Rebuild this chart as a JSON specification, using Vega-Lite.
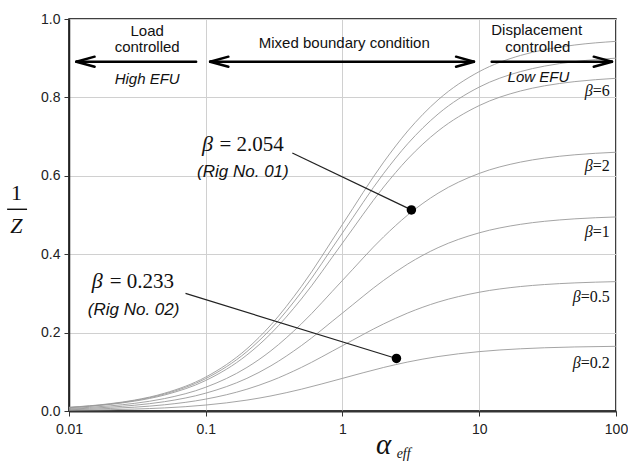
{
  "$schema": "https://vega.github.io/schema/vega-lite/v6.json",
  "width": 547,
  "height": 392,
  "autosize": {"type": "none"},
  "padding": {"left": 69, "top": 19, "right": 12, "bottom": 52},
  "background": "white",
  "config": {
    "view": {"stroke": "#000", "strokeWidth": 1.5},
    "axis": {
      "gridColor": "#d0d0d0",
      "gridWidth": 1,
      "tickColor": "#333",
      "tickSize": 5,
      "domainColor": "#222",
      "domainWidth": 1.5,
      "labelFont": "Liberation Sans",
      "labelFontSize": 14,
      "labelColor": "#222",
      "labelFlush": false
    }
  },
  "datasets": {
    "curves": [
      {"a": 0.01, "v": 0.0017, "b": 0.2}, {"a": 0.02, "v": 0.0033, "b": 0.2}, {"a": 0.03, "v": 0.0049, "b": 0.2}, {"a": 0.05, "v": 0.0079, "b": 0.2}, {"a": 0.1, "v": 0.0152, "b": 0.2}, {"a": 0.2, "v": 0.0278, "b": 0.2}, {"a": 0.3, "v": 0.0385, "b": 0.2}, {"a": 0.5, "v": 0.0556, "b": 0.2}, {"a": 1, "v": 0.0833, "b": 0.2}, {"a": 2, "v": 0.1111, "b": 0.2}, {"a": 3, "v": 0.125, "b": 0.2}, {"a": 5, "v": 0.1389, "b": 0.2}, {"a": 10, "v": 0.1515, "b": 0.2}, {"a": 20, "v": 0.1587, "b": 0.2}, {"a": 30, "v": 0.1613, "b": 0.2}, {"a": 50, "v": 0.1634, "b": 0.2}, {"a": 100, "v": 0.165, "b": 0.2},
      {"a": 0.01, "v": 0.0033, "b": 0.5}, {"a": 0.02, "v": 0.0065, "b": 0.5}, {"a": 0.03, "v": 0.0097, "b": 0.5}, {"a": 0.05, "v": 0.0159, "b": 0.5}, {"a": 0.1, "v": 0.0303, "b": 0.5}, {"a": 0.2, "v": 0.0556, "b": 0.5}, {"a": 0.3, "v": 0.0769, "b": 0.5}, {"a": 0.5, "v": 0.1111, "b": 0.5}, {"a": 1, "v": 0.1667, "b": 0.5}, {"a": 2, "v": 0.2222, "b": 0.5}, {"a": 3, "v": 0.25, "b": 0.5}, {"a": 5, "v": 0.2778, "b": 0.5}, {"a": 10, "v": 0.303, "b": 0.5}, {"a": 20, "v": 0.3175, "b": 0.5}, {"a": 30, "v": 0.3226, "b": 0.5}, {"a": 50, "v": 0.3268, "b": 0.5}, {"a": 100, "v": 0.33, "b": 0.5},
      {"a": 0.01, "v": 0.005, "b": 1}, {"a": 0.02, "v": 0.0098, "b": 1}, {"a": 0.03, "v": 0.0146, "b": 1}, {"a": 0.05, "v": 0.0238, "b": 1}, {"a": 0.1, "v": 0.0455, "b": 1}, {"a": 0.2, "v": 0.0833, "b": 1}, {"a": 0.3, "v": 0.1154, "b": 1}, {"a": 0.5, "v": 0.1667, "b": 1}, {"a": 1, "v": 0.25, "b": 1}, {"a": 2, "v": 0.3333, "b": 1}, {"a": 3, "v": 0.375, "b": 1}, {"a": 5, "v": 0.4167, "b": 1}, {"a": 10, "v": 0.4545, "b": 1}, {"a": 20, "v": 0.4762, "b": 1}, {"a": 30, "v": 0.4839, "b": 1}, {"a": 50, "v": 0.4902, "b": 1}, {"a": 100, "v": 0.495, "b": 1},
      {"a": 0.01, "v": 0.0066, "b": 2}, {"a": 0.02, "v": 0.0131, "b": 2}, {"a": 0.03, "v": 0.0194, "b": 2}, {"a": 0.05, "v": 0.0317, "b": 2}, {"a": 0.1, "v": 0.0606, "b": 2}, {"a": 0.2, "v": 0.1111, "b": 2}, {"a": 0.3, "v": 0.1538, "b": 2}, {"a": 0.5, "v": 0.2222, "b": 2}, {"a": 1, "v": 0.3333, "b": 2}, {"a": 2, "v": 0.4444, "b": 2}, {"a": 3, "v": 0.5, "b": 2}, {"a": 5, "v": 0.5556, "b": 2}, {"a": 10, "v": 0.6061, "b": 2}, {"a": 20, "v": 0.6349, "b": 2}, {"a": 30, "v": 0.6452, "b": 2}, {"a": 50, "v": 0.6536, "b": 2}, {"a": 100, "v": 0.6601, "b": 2},
      {"a": 0.01, "v": 0.0085, "b": 6}, {"a": 0.02, "v": 0.0168, "b": 6}, {"a": 0.03, "v": 0.025, "b": 6}, {"a": 0.05, "v": 0.0408, "b": 6}, {"a": 0.1, "v": 0.0779, "b": 6}, {"a": 0.2, "v": 0.1429, "b": 6}, {"a": 0.3, "v": 0.1978, "b": 6}, {"a": 0.5, "v": 0.2857, "b": 6}, {"a": 1, "v": 0.4286, "b": 6}, {"a": 2, "v": 0.5714, "b": 6}, {"a": 3, "v": 0.6429, "b": 6}, {"a": 5, "v": 0.7143, "b": 6}, {"a": 10, "v": 0.7792, "b": 6}, {"a": 20, "v": 0.8163, "b": 6}, {"a": 30, "v": 0.8295, "b": 6}, {"a": 50, "v": 0.8403, "b": 6}, {"a": 100, "v": 0.8487, "b": 6},
      {"a": 0.01, "v": 0.009, "b": 10}, {"a": 0.02, "v": 0.0178, "b": 10}, {"a": 0.03, "v": 0.0265, "b": 10}, {"a": 0.05, "v": 0.0433, "b": 10}, {"a": 0.1, "v": 0.0826, "b": 10}, {"a": 0.2, "v": 0.1515, "b": 10}, {"a": 0.3, "v": 0.2098, "b": 10}, {"a": 0.5, "v": 0.303, "b": 10}, {"a": 1, "v": 0.4545, "b": 10}, {"a": 2, "v": 0.6061, "b": 10}, {"a": 3, "v": 0.6818, "b": 10}, {"a": 5, "v": 0.7576, "b": 10}, {"a": 10, "v": 0.8264, "b": 10}, {"a": 20, "v": 0.8658, "b": 10}, {"a": 30, "v": 0.8798, "b": 10}, {"a": 50, "v": 0.8913, "b": 10}, {"a": 100, "v": 0.9001, "b": 10},
      {"a": 0.01, "v": 0.0094, "b": 20}, {"a": 0.02, "v": 0.0187, "b": 20}, {"a": 0.03, "v": 0.0277, "b": 20}, {"a": 0.05, "v": 0.0454, "b": 20}, {"a": 0.1, "v": 0.0866, "b": 20}, {"a": 0.2, "v": 0.1587, "b": 20}, {"a": 0.3, "v": 0.2198, "b": 20}, {"a": 0.5, "v": 0.3175, "b": 20}, {"a": 1, "v": 0.4762, "b": 20}, {"a": 2, "v": 0.6349, "b": 20}, {"a": 3, "v": 0.7143, "b": 20}, {"a": 5, "v": 0.7937, "b": 20}, {"a": 10, "v": 0.8658, "b": 20}, {"a": 20, "v": 0.907, "b": 20}, {"a": 30, "v": 0.9217, "b": 20}, {"a": 50, "v": 0.9337, "b": 20}, {"a": 100, "v": 0.943, "b": 20}
    ],
    "arrows": [
      {"x": 0.01132, "y": 0.891, "x2": 0.0851, "y2": 0.891},
      {"x": 0.01132, "y": 0.891, "x2": 0.0154, "y2": 0.9038},
      {"x": 0.01132, "y": 0.891, "x2": 0.0154, "y2": 0.8782},
      {"x": 0.1076, "y": 0.891, "x2": 9.15, "y2": 0.891},
      {"x": 0.1076, "y": 0.891, "x2": 0.1465, "y2": 0.9038},
      {"x": 0.1076, "y": 0.891, "x2": 0.1465, "y2": 0.8782},
      {"x": 9.15, "y": 0.891, "x2": 6.76, "y2": 0.9038},
      {"x": 9.15, "y": 0.891, "x2": 6.76, "y2": 0.8782},
      {"x": 12.32, "y": 0.891, "x2": 93.5, "y2": 0.891},
      {"x": 93.5, "y": 0.891, "x2": 68.7, "y2": 0.9038},
      {"x": 93.5, "y": 0.891, "x2": 68.7, "y2": 0.8782}
    ],
    "leaders": [
      {"x": 0.4296, "y": 0.658, "x2": 3.19, "y2": 0.513},
      {"x": 0.0711, "y": 0.3, "x2": 2.48, "y2": 0.134}
    ],
    "dots": [
      {"x": 3.19, "y": 0.513},
      {"x": 2.48, "y": 0.134}
    ],
    "topText": [
      {"x": 0.0373, "y": 0.969, "t": "Load"},
      {"x": 0.0373, "y": 0.9276, "t": "controlled"},
      {"x": 1.03, "y": 0.9395, "t": "Mixed boundary condition"},
      {"x": 26.3, "y": 0.972, "t": "Displacement"},
      {"x": 26.8, "y": 0.9286, "t": "controlled"}
    ],
    "efuText": [
      {"x": 0.0373, "y": 0.847, "t": "High EFU"},
      {"x": 27.1, "y": 0.853, "t": "Low EFU"}
    ],
    "rigText": [
      {"x": 0.1869, "y": 0.597, "t": "(Rig No. 01)"},
      {"x": 0.02966, "y": 0.245, "t": "(Rig No. 02)"}
    ],
    "bigBeta": [
      {"x": 0.1029, "y": 0.664},
      {"x": 0.01606, "y": 0.313}
    ],
    "bigVal": [
      {"x": 0.1259, "y": 0.664, "t": "= 2.054"},
      {"x": 0.01982, "y": 0.313, "t": "= 0.233"}
    ],
    "betaLab": [
      {"x": 90, "bx": 67.6, "y": 0.804, "t": "=6"},
      {"x": 90, "bx": 67.6, "y": 0.613, "t": "=2"},
      {"x": 90, "bx": 67.6, "y": 0.445, "t": "=1"},
      {"x": 90, "bx": 55.2, "y": 0.279, "t": "=0.5"},
      {"x": 90, "bx": 55.2, "y": 0.109, "t": "=0.2"}
    ],
    "yTitleNum": [{"x": 0.00413, "y": 0.557, "t": "1"}],
    "yTitleDen": [{"x": 0.00413, "y": 0.473, "t": "Z"}],
    "yTitleBar": [{"x": 0.003527, "x2": 0.004935, "y": 0.5146}],
    "xTitle": [{"x": 2.0, "y": -0.087, "t": "α"}],
    "xTitleSub": [{"x": 2.8, "y": -0.11, "t": "eff"}]
  },
  "layer": [
    {
      "data": {"name": "curves"},
      "mark": {"type": "line", "color": "#9a9a9a", "strokeWidth": 0.9, "interpolate": "monotone"},
      "encoding": {
        "x": {"field": "a", "type": "quantitative", "title": null,
              "scale": {"type": "log", "domain": [0.01, 100], "nice": false},
              "axis": {"values": [0.01, 0.1, 1, 10, 100], "format": "~g", "grid": true, "labelPadding": 6, "domainWidth": 2, "domainColor": "#333"}},
        "y": {"field": "v", "type": "quantitative", "title": null,
              "scale": {"domain": [0, 1], "nice": false, "zero": false},
              "axis": {"values": [0, 0.2, 0.4, 0.6, 0.8, 1], "format": ".1f", "grid": true, "labelPadding": 4}},
        "detail": {"field": "b", "type": "nominal"}
      }
    },
    {
      "data": {"name": "arrows"},
      "mark": {"type": "rule", "color": "#000", "strokeWidth": 2.4, "strokeCap": "round"},
      "encoding": {
        "x": {"field": "x", "type": "quantitative", "title": null, "scale": {"type": "log", "domain": [0.01, 100], "nice": false}},
        "y": {"field": "y", "type": "quantitative", "title": null, "scale": {"domain": [0, 1], "nice": false, "zero": false}},
        "x2": {"field": "x2"},
        "y2": {"field": "y2"}
      }
    },
    {
      "data": {"name": "leaders"},
      "mark": {"type": "rule", "color": "#222", "strokeWidth": 1.2},
      "encoding": {
        "x": {"field": "x", "type": "quantitative", "title": null, "scale": {"type": "log", "domain": [0.01, 100], "nice": false}},
        "y": {"field": "y", "type": "quantitative", "title": null, "scale": {"domain": [0, 1], "nice": false, "zero": false}},
        "x2": {"field": "x2"},
        "y2": {"field": "y2"}
      }
    },
    {
      "data": {"name": "dots"},
      "mark": {"type": "point", "filled": true, "color": "#000", "size": 90, "opacity": 1},
      "encoding": {
        "x": {"field": "x", "type": "quantitative", "title": null, "scale": {"type": "log", "domain": [0.01, 100], "nice": false}},
        "y": {"field": "y", "type": "quantitative", "title": null, "scale": {"domain": [0, 1], "nice": false, "zero": false}}
      }
    },
    {
      "data": {"name": "topText"},
      "mark": {"type": "text", "font": "Liberation Sans", "fontSize": 15, "color": "#111", "align": "center", "baseline": "middle"},
      "encoding": {
        "x": {"field": "x", "type": "quantitative", "title": null, "scale": {"type": "log", "domain": [0.01, 100], "nice": false}},
        "y": {"field": "y", "type": "quantitative", "title": null, "scale": {"domain": [0, 1], "nice": false, "zero": false}},
        "text": {"field": "t"}
      }
    },
    {
      "data": {"name": "efuText"},
      "mark": {"type": "text", "font": "Liberation Sans", "fontSize": 15, "fontStyle": "italic", "color": "#111", "align": "center", "baseline": "middle"},
      "encoding": {
        "x": {"field": "x", "type": "quantitative", "title": null, "scale": {"type": "log", "domain": [0.01, 100], "nice": false}},
        "y": {"field": "y", "type": "quantitative", "title": null, "scale": {"domain": [0, 1], "nice": false, "zero": false}},
        "text": {"field": "t"}
      }
    },
    {
      "data": {"name": "rigText"},
      "mark": {"type": "text", "font": "Liberation Sans", "fontSize": 17, "fontStyle": "italic", "color": "#111", "align": "center", "baseline": "alphabetic"},
      "encoding": {
        "x": {"field": "x", "type": "quantitative", "title": null, "scale": {"type": "log", "domain": [0.01, 100], "nice": false}},
        "y": {"field": "y", "type": "quantitative", "title": null, "scale": {"domain": [0, 1], "nice": false, "zero": false}},
        "text": {"field": "t"}
      }
    },
    {
      "data": {"name": "bigBeta"},
      "mark": {"type": "text", "font": "Liberation Serif", "fontSize": 22, "fontStyle": "italic", "color": "#111", "align": "center", "baseline": "alphabetic", "text": "β"},
      "encoding": {
        "x": {"field": "x", "type": "quantitative", "title": null, "scale": {"type": "log", "domain": [0.01, 100], "nice": false}},
        "y": {"field": "y", "type": "quantitative", "title": null, "scale": {"domain": [0, 1], "nice": false, "zero": false}}
      }
    },
    {
      "data": {"name": "bigVal"},
      "mark": {"type": "text", "font": "Liberation Serif", "fontSize": 21, "color": "#111", "align": "left", "baseline": "alphabetic"},
      "encoding": {
        "x": {"field": "x", "type": "quantitative", "title": null, "scale": {"type": "log", "domain": [0.01, 100], "nice": false}},
        "y": {"field": "y", "type": "quantitative", "title": null, "scale": {"domain": [0, 1], "nice": false, "zero": false}},
        "text": {"field": "t"}
      }
    },
    {
      "data": {"name": "betaLab"},
      "mark": {"type": "text", "font": "Liberation Serif", "fontSize": 16, "fontStyle": "italic", "color": "#111", "align": "right", "baseline": "alphabetic", "text": "β"},
      "encoding": {
        "x": {"field": "bx", "type": "quantitative", "title": null, "scale": {"type": "log", "domain": [0.01, 100], "nice": false}},
        "y": {"field": "y", "type": "quantitative", "title": null, "scale": {"domain": [0, 1], "nice": false, "zero": false}}
      }
    },
    {
      "data": {"name": "betaLab"},
      "mark": {"type": "text", "font": "Liberation Serif", "fontSize": 16, "color": "#111", "align": "right", "baseline": "alphabetic"},
      "encoding": {
        "x": {"field": "x", "type": "quantitative", "title": null, "scale": {"type": "log", "domain": [0.01, 100], "nice": false}},
        "y": {"field": "y", "type": "quantitative", "title": null, "scale": {"domain": [0, 1], "nice": false, "zero": false}},
        "text": {"field": "t"}
      }
    },
    {
      "data": {"name": "yTitleNum"},
      "mark": {"type": "text", "font": "Liberation Serif", "fontSize": 22, "color": "#111", "align": "center", "baseline": "middle"},
      "encoding": {
        "x": {"field": "x", "type": "quantitative", "title": null, "scale": {"type": "log", "domain": [0.01, 100], "nice": false}},
        "y": {"field": "y", "type": "quantitative", "title": null, "scale": {"domain": [0, 1], "nice": false, "zero": false}},
        "text": {"field": "t"}
      }
    },
    {
      "data": {"name": "yTitleDen"},
      "mark": {"type": "text", "font": "Liberation Serif", "fontSize": 22, "fontStyle": "italic", "color": "#111", "align": "center", "baseline": "middle"},
      "encoding": {
        "x": {"field": "x", "type": "quantitative", "title": null, "scale": {"type": "log", "domain": [0.01, 100], "nice": false}},
        "y": {"field": "y", "type": "quantitative", "title": null, "scale": {"domain": [0, 1], "nice": false, "zero": false}},
        "text": {"field": "t"}
      }
    },
    {
      "data": {"name": "yTitleBar"},
      "mark": {"type": "rule", "color": "#111", "strokeWidth": 1.4},
      "encoding": {
        "x": {"field": "x", "type": "quantitative", "title": null, "scale": {"type": "log", "domain": [0.01, 100], "nice": false}},
        "x2": {"field": "x2"},
        "y": {"field": "y", "type": "quantitative", "title": null, "scale": {"domain": [0, 1], "nice": false, "zero": false}}
      }
    },
    {
      "data": {"name": "xTitle"},
      "mark": {"type": "text", "font": "Liberation Serif", "fontSize": 29, "fontStyle": "italic", "color": "#111", "align": "center", "baseline": "middle"},
      "encoding": {
        "x": {"field": "x", "type": "quantitative", "title": null, "scale": {"type": "log", "domain": [0.01, 100], "nice": false}},
        "y": {"field": "y", "type": "quantitative", "title": null, "scale": {"domain": [0, 1], "nice": false, "zero": false}},
        "text": {"field": "t"}
      }
    },
    {
      "data": {"name": "xTitleSub"},
      "mark": {"type": "text", "font": "Liberation Serif", "fontSize": 14, "fontStyle": "italic", "color": "#111", "align": "center", "baseline": "middle"},
      "encoding": {
        "x": {"field": "x", "type": "quantitative", "title": null, "scale": {"type": "log", "domain": [0.01, 100], "nice": false}},
        "y": {"field": "y", "type": "quantitative", "title": null, "scale": {"domain": [0, 1], "nice": false, "zero": false}},
        "text": {"field": "t"}
      }
    }
  ]
}
